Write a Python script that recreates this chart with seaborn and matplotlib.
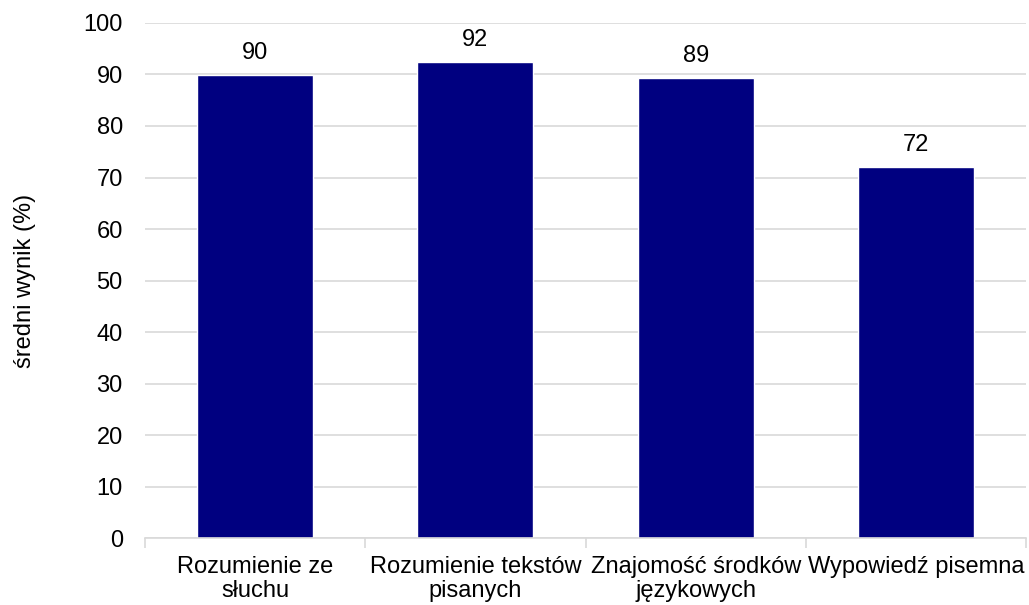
import numpy as np
import pandas as pd
import seaborn as sns
import matplotlib.pyplot as plt

# dane
kategorie = ['Rozumienie ze\nsłuchu', 'Rozumienie tekstów\npisanych',
             'Znajomość środków\njęzykowych', 'Wypowiedź pisemna']
wyniki = [89.9, 92.4, 89.3, 72.0]
etykiety = ['90', '92', '89', '72']

df = pd.DataFrame({'kategoria': kategorie, 'wynik': wyniki})

sns.set_theme(style='white')
plt.rcParams['font.family'] = ['Liberation Sans', 'DejaVu Sans']
plt.rcParams['text.color'] = 'black'
plt.rcParams['axes.labelcolor'] = 'black'
plt.rcParams['xtick.color'] = 'black'
plt.rcParams['ytick.color'] = 'black'

fig = plt.figure(figsize=(10.29, 6.05), dpi=100)
ax = fig.add_axes([0.1409, 0.1107, 0.8562, 0.8513])

sns.barplot(data=df, x='kategoria', y='wynik', color='#000080',
            width=0.527, saturation=1, ax=ax)

for i, (v, t) in enumerate(zip(wyniki, etykiety)):
    ax.text(i, v + 3.1, t, ha='center', va='baseline', fontsize=17, color='black')

ax.set_ylim(0, 100)
ax.set_xlim(-0.5, 3.5)
ax.set_yticks(np.arange(0, 101, 10))
ax.yaxis.grid(True, color='#d9d9d9', linewidth=1.2)
ax.set_axisbelow(True)

for s in ['top', 'right', 'left']:
    ax.spines[s].set_visible(False)
ax.spines['bottom'].set_color('#d9d9d9')
ax.spines['bottom'].set_linewidth(1.2)

ax.set_xticks(np.arange(-0.5, 3.6, 1), minor=True)
ax.tick_params(axis='x', which='minor', length=7, color='#d9d9d9', width=1.2, direction='out', bottom=True)
ax.tick_params(axis='x', which='major', length=0, labelsize=17, pad=13)
ax.tick_params(axis='y', length=0, labelsize=17, pad=16)
for lbl in ax.get_xticklabels():
    lbl.set_linespacing(1.1)

ax.set_xlabel('')
ax.set_ylabel('średni wynik (%)', fontsize=17, labelpad=34)

fig.savefig('out.png', dpi=100)
